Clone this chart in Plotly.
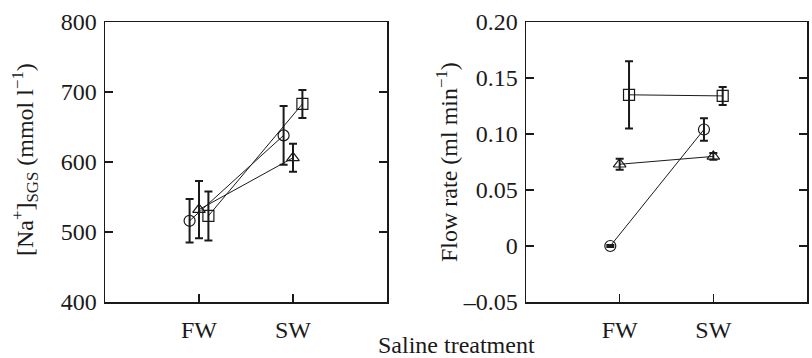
import plotly.graph_objects as go
import numpy as np

categories = ["FW", "SW"]
series_names = ["circle", "triangle", "square"]

na_circle = [516, 638]
na_circle_err = [31, 42]
na_triangle = [532, 606]
na_triangle_err = [41, 20]
na_square = [523, 683]
na_square_err = [35, 20]

flow_circle = [0.0, 0.104]
flow_circle_err = [0.001, 0.010]
flow_triangle = [0.073, 0.080]
flow_triangle_err = [0.005, 0.003]
flow_square = [0.135, 0.134]
flow_square_err = [0.030, 0.008]

na_ticks = [400, 500, 600, 700, 800]
flow_ticks = [-0.05, 0, 0.05, 0.10, 0.15, 0.20]
flow_ticktext = ["\u20130.05", "0", "0.05", "0.10", "0.15", "0.20"]

FONT = "Liberation Serif, Times New Roman, serif"
INK = "#1a1a1a"

symbols = {"circle": "circle-open", "triangle": "triangle-up-open", "square": "square-open"}
offsets = {"circle": -0.1, "triangle": 0.0, "square": 0.1}
sizes = {"circle": 11, "triangle": 11, "square": 11}

base = np.arange(len(categories)) + 1

fig = go.Figure()

def add(xaxis, yaxis, name, y, err):
    fig.add_trace(go.Scatter(
        x=base + offsets[name], y=y, mode="lines+markers",
        xaxis=xaxis, yaxis=yaxis,
        line=dict(color=INK, width=1),
        marker=dict(symbol=symbols[name], size=sizes[name], color=INK,
                    line=dict(color=INK, width=1.2)),
        error_y=dict(type="data", array=err, visible=True, color=INK,
                     thickness=2, width=4),
        showlegend=False, hoverinfo="skip",
    ))

add("x", "y", "circle", na_circle, na_circle_err)
add("x", "y", "triangle", na_triangle, na_triangle_err)
add("x", "y", "square", na_square, na_square_err)
add("x2", "y2", "circle", flow_circle, flow_circle_err)
add("x2", "y2", "triangle", flow_triangle, flow_triangle_err)
add("x2", "y2", "square", flow_square, flow_square_err)

W, H = 812, 358
ytop, ybot = 22, 302
yd = [1 - ybot / H, 1 - ytop / H]

TICKSIZE = 24
TITLESIZE = 24

xcommon = dict(
    range=[0, 3], tickvals=list(base), ticktext=categories,
    ticks="inside", ticklen=8, tickwidth=1.5, tickcolor=INK,
    showline=True, linecolor=INK, linewidth=1.5, mirror=True,
    showgrid=False, zeroline=False, automargin=False,
    tickfont=dict(family=FONT, size=TICKSIZE, color=INK),
    ticklabelstandoff=6,
)
ycommon = dict(
    ticks="inside", ticklen=8, tickwidth=1.5, tickcolor=INK,
    showline=True, linecolor=INK, linewidth=1.5, mirror="ticks",
    showgrid=False, zeroline=False, automargin=False,
    tickfont=dict(family=FONT, size=TICKSIZE, color=INK),
    ticklabelstandoff=2,
)

fig.update_layout(
    template="none",
    width=W, height=H,
    margin=dict(l=0, r=0, t=0, b=0, autoexpand=False),
    paper_bgcolor="white", plot_bgcolor="white",
    xaxis=dict(domain=[105 / W, 387 / W], anchor="y", **xcommon),
    yaxis=dict(domain=yd, anchor="x", range=[400, 800], tickvals=na_ticks, **ycommon),
    xaxis2=dict(domain=[526 / W, 807 / W], anchor="y2", **xcommon),
    yaxis2=dict(domain=yd, anchor="x2", range=[-0.05, 0.20], tickvals=flow_ticks,
                ticktext=flow_ticktext, **ycommon),
    annotations=[
        dict(text="[Na<sup>+</sup>]<sub>SGS</sub> (mmol l<sup>\u22121</sup>)",
             x=25 / W, y=1 - 160 / H, xref="paper", yref="paper",
             textangle=-90, showarrow=False, xanchor="center", yanchor="middle",
             font=dict(family=FONT, size=TITLESIZE, color=INK)),
        dict(text="Flow rate (ml min<sup>\u22121</sup>)",
             x=447 / W, y=1 - 162 / H, xref="paper", yref="paper",
             textangle=-90, showarrow=False, xanchor="center", yanchor="middle",
             font=dict(family=FONT, size=TITLESIZE, color=INK)),
        dict(text="Saline treatment",
             x=456 / W, y=1 - 345 / H, xref="paper", yref="paper",
             showarrow=False, xanchor="center", yanchor="middle",
             font=dict(family=FONT, size=TITLESIZE, color=INK)),
    ],
)

fig.write_html("out.html",
               config={"displayModeBar": False, "staticPlot": True},
               post_script="document.body.style.margin='0';document.body.style.overflow='hidden';")
